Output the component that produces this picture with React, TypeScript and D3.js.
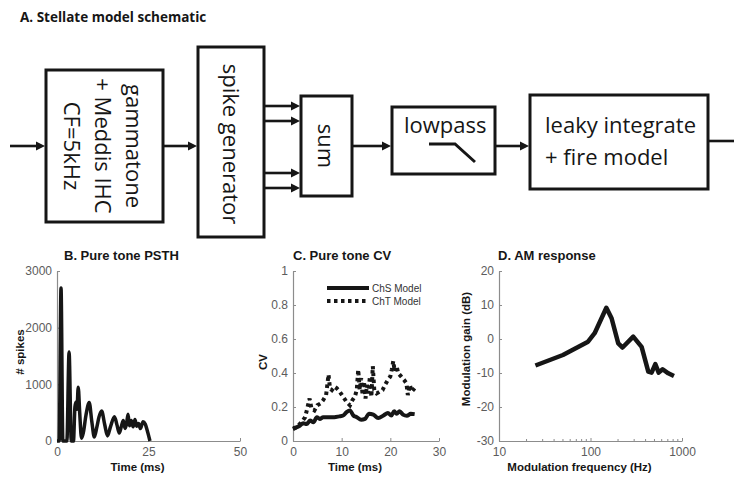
import * as d3 from "d3";
import { useEffect, useRef } from "react";

// ---- B. Pure tone PSTH ----
const psthTime = [0, 0.6, 1.1, 1.6, 2.7, 3.3, 3.9, 4.5, 4.9, 5.2, 5.45, 5.8, 6.2, 6.7, 7.2, 7.9, 8.8, 9.5, 10.2, 10.9, 11.5, 12.2, 13, 13.8, 14.6, 15.7, 16.4, 17, 17.6, 18.1, 18.6, 19, 19.4, 19.8, 20.3, 20.8, 21.3, 21.8, 22.3, 22.8, 23.5, 24.1, 24.6, 25.4];
const psthSpikes = [0, 0, 2700, 0, 0, 1570, 0, 0, 600, 690, 560, 950, 500, 50, 150, 450, 680, 350, 70, 250, 430, 530, 300, 90, 250, 430, 280, 140, 260, 360, 220, 300, 470, 270, 360, 250, 380, 260, 310, 220, 340, 300, 200, 0];
const psthXTicks = [0, 25, 50];
const psthYTicks = [0, 1000, 2000, 3000];

// ---- C. Pure tone CV ----
const chsTime = [0, 0.7, 1.4, 2.1, 2.8, 3.5, 4.2, 4.9, 5.5, 6.2, 7.5, 8.5, 9.5, 10.3, 11, 11.7, 12.4, 13.1, 14, 14.8, 15.6, 16.5, 17.5, 18.6, 19.5, 20.2, 20.8, 21.3, 21.9, 22.6, 23.4, 24.2, 25];
const chsCV = [0.075, 0.08, 0.09, 0.105, 0.1, 0.12, 0.11, 0.14, 0.13, 0.14, 0.14, 0.14, 0.145, 0.15, 0.17, 0.18, 0.15, 0.14, 0.125, 0.13, 0.16, 0.155, 0.135, 0.15, 0.165, 0.15, 0.175, 0.16, 0.175, 0.155, 0.148, 0.16, 0.158];
const chtTime = [0, 0.7, 1.4, 2, 2.5, 3, 3.4, 3.8, 4.4, 5, 5.6, 6.2, 6.8, 7.3, 7.6, 8, 8.5, 9, 9.6, 10.3, 11, 11.7, 12.2, 12.7, 13.1, 13.4, 13.7, 14, 14.3, 14.6, 14.9, 15.2, 15.5, 15.8, 16.1, 16.4, 16.7, 17.2, 17.8, 18.4, 18.9, 19.5, 20, 20.3, 20.6, 20.9, 21.3, 21.6, 22.2, 22.8, 23.3, 23.6, 24, 24.4, 25];
const chtCV = [0.07, 0.08, 0.1, 0.12, 0.14, 0.2, 0.25, 0.19, 0.18, 0.21, 0.22, 0.24, 0.27, 0.39, 0.31, 0.3, 0.32, 0.31, 0.29, 0.26, 0.23, 0.21, 0.24, 0.26, 0.3, 0.42, 0.3, 0.37, 0.27, 0.35, 0.25, 0.33, 0.28, 0.38, 0.26, 0.44, 0.3, 0.28, 0.29, 0.3, 0.33, 0.36, 0.38, 0.42, 0.47, 0.41, 0.44, 0.4, 0.38, 0.36, 0.34, 0.27, 0.33, 0.29, 0.31];
const cvXTicks = [0, 10, 20, 30];
const cvYTicks = [0, 0.2, 0.4, 0.6, 0.8, 1];
const cvSeries = ["ChS Model", "ChT Model"];

// ---- D. AM response ----
const amFreq = [25, 50, 94, 111, 149, 170, 201, 224, 293, 362, 428, 465, 511, 556, 614, 708, 817];
const amGain = [-7.8, -4.7, -0.8, 1.7, 9.2, 6.1, -1.3, -2.5, 0.7, -2.3, -9.6, -9.9, -7.4, -9.9, -8.9, -10.1, -10.9];
const amXTicks = [10, 100, 1000];
const amYTicks = [-30, -20, -10, 0, 10, 20];

const W = 734;
const H = 479;
const PLOT_TOP = 271;
const PLOT_BOTTOM = 441;
const AXIS_COLOR = "#8c8c8c";
const TICK_TEXT = "#5c5c5c";
const INK = "#161616";
const FONT = "'Liberation Sans', Arial, sans-serif";
const SCHEM_FONT = "'Open Sans', 'Noto Sans', sans-serif";

export default function App() {
  const ref = useRef<SVGSVGElement>(null);

  useEffect(() => {
    const svg = d3.select(ref.current);
    svg.selectAll("*").remove();
    svg.append("rect").attr("width", W).attr("height", H).attr("fill", "white");

    // ---------- A. schematic ----------
    const sch = svg.append("g");
    sch.append("text")
      .attr("x", 20).attr("y", 22)
      .attr("font-family", SCHEM_FONT).attr("font-weight", 700).attr("font-size", 13.5)
      .attr("fill", INK)
      .text("A. Stellate model schematic");

    const box = (x: number, y: number, w: number, h: number) =>
      sch.append("rect").attr("x", x).attr("y", y).attr("width", w).attr("height", h)
        .attr("fill", "white").attr("stroke", INK).attr("stroke-width", 3);

    const arrow = (x1: number, x2: number, y: number) => {
      sch.append("line").attr("x1", x1).attr("x2", x2 - 6).attr("y1", y).attr("y2", y)
        .attr("stroke", INK).attr("stroke-width", 2.6);
      sch.append("path")
        .attr("d", `M${x2 - 9},${y - 4.5} L${x2},${y} L${x2 - 9},${y + 4.5} Z`)
        .attr("fill", INK);
    };

    box(46, 70, 117, 152);
    box(198, 47, 66, 190);
    box(301, 96, 51, 100);
    box(392, 107, 103, 67);
    box(530, 95, 178, 94);

    arrow(10, 45, 146);
    arrow(164, 197, 146);
    [106, 121, 173, 188].forEach(y => arrow(265, 300, y));
    arrow(353, 391, 146);
    arrow(496, 529, 146);
    sch.append("line").attr("x1", 709).attr("x2", W).attr("y1", 141).attr("y2", 141)
      .attr("stroke", INK).attr("stroke-width", 2.6);

    const vtext = (x: number, y: number, s: string) =>
      sch.append("text")
        .attr("transform", `translate(${x},${y}) rotate(90)`)
        .attr("text-anchor", "middle")
        .attr("font-family", SCHEM_FONT).attr("font-size", 22).attr("fill", INK)
        .text(s);

    vtext(126, 146, "gammatone");
    vtext(95, 146, "+ Meddis IHC");
    vtext(64, 146, "CF=5kHz");
    vtext(223, 144, "spike generator");
    vtext(318, 146, "sum");

    const htext = (x: number, y: number, s: string) =>
      sch.append("text").attr("x", x).attr("y", y)
        .attr("font-family", SCHEM_FONT).attr("font-size", 22).attr("fill", INK)
        .text(s);
    htext(404, 133, "lowpass");
    htext(545, 133, "leaky integrate");
    htext(545, 165, "+ fire model");

    sch.append("path").attr("d", "M429,144 H455 L475,162")
      .attr("fill", "none").attr("stroke", INK).attr("stroke-width", 3);

    // ---------- helpers for the plots ----------
    const styleAxis = (g: d3.Selection<SVGGElement, unknown, null, undefined>) => {
      g.select(".domain").attr("stroke", AXIS_COLOR).attr("stroke-width", 1.2);
      g.selectAll(".tick line").attr("stroke", AXIS_COLOR);
      g.selectAll(".tick text").attr("fill", TICK_TEXT).attr("font-size", 12).attr("font-family", FONT);
    };

    const fmt = (d: d3.NumberValue) => String(+d);

    const panel = (
      left: number, right: number,
      x: any, y: any,
      xTicks: number[], yTicks: number[],
      title: string, titleX: number,
      xLabel: string, yLabel: string, yLabelX: number, yLabelY: number
    ) => {
      const g = svg.append("g");
      const ax = g.append("g").attr("transform", `translate(0,${PLOT_BOTTOM})`)
        .call(d3.axisBottom(x).tickValues(xTicks).tickFormat(fmt).tickSizeInner(-3).tickSizeOuter(0).tickPadding(6));
      styleAxis(ax);
      const ay = g.append("g").attr("transform", `translate(${left},0)`)
        .call(d3.axisLeft(y).tickValues(yTicks).tickFormat(fmt).tickSizeInner(-3).tickSizeOuter(0).tickPadding(5));
      styleAxis(ay);
      g.append("text").attr("x", titleX).attr("y", 260)
        .attr("font-family", FONT).attr("font-weight", 700).attr("font-size", 13).attr("fill", INK)
        .text(title);
      g.append("text").attr("x", (left + right) / 2 - 11).attr("y", 471)
        .attr("text-anchor", "middle")
        .attr("font-family", FONT).attr("font-weight", 700).attr("font-size", 11.5).attr("fill", INK)
        .text(xLabel);
      g.append("text")
        .attr("transform", `translate(${yLabelX},${yLabelY}) rotate(-90)`)
        .attr("text-anchor", "middle")
        .attr("font-family", FONT).attr("font-weight", 700).attr("font-size", 11.5).attr("fill", INK)
        .text(yLabel);
      return g;
    };

    // ---------- B ----------
    const bx = d3.scaleLinear().domain([0, 50]).range([57, 240]);
    const by = d3.scaleLinear().domain([0, 3000]).range([PLOT_BOTTOM, PLOT_TOP]);
    const gB = panel(57, 240, bx, by, psthXTicks, psthYTicks, "B. Pure tone PSTH", 64, "Time (ms)", "# spikes", 24, 352);
    const psthLine = d3.line<number>()
      .x((_, i) => bx(psthTime[i]))
      .y(d => by(d))
      .curve(d3.curveMonotoneX);
    gB.append("path").attr("d", psthLine(psthSpikes))
      .attr("fill", "none").attr("stroke", INK).attr("stroke-width", 3.5).attr("stroke-linejoin", "round");

    // ---------- C ----------
    const cx = d3.scaleLinear().domain([0, 30]).range([293, 439]);
    const cy = d3.scaleLinear().domain([0, 1]).range([PLOT_BOTTOM, PLOT_TOP]);
    const gC = panel(293, 439, cx, cy, cvXTicks, cvYTicks, "C. Pure tone CV", 293, "Time (ms)", "CV", 267, 362);
    const chtLine = d3.line<number>().x((_, i) => cx(chtTime[i])).y(d => cy(d));
    const chsLine = d3.line<number>().x((_, i) => cx(chsTime[i])).y(d => cy(d)).curve(d3.curveMonotoneX);
    gC.append("path").attr("d", chtLine(chtCV))
      .attr("fill", "none").attr("stroke", INK).attr("stroke-width", 4).attr("stroke-dasharray", "3.5,3.5");
    gC.append("path").attr("d", chsLine(chsCV))
      .attr("fill", "none").attr("stroke", INK).attr("stroke-width", 4).attr("stroke-linejoin", "round");

    const legend = gC.append("g");
    cvSeries.forEach((name, i) => {
      const ly = 288 + i * 13;
      legend.append("line").attr("x1", 327).attr("x2", 369).attr("y1", ly).attr("y2", ly)
        .attr("stroke", INK).attr("stroke-width", 4)
        .attr("stroke-dasharray", i === 1 ? "3.5,3.5" : null);
      legend.append("text").attr("x", 372).attr("y", ly + 3.5)
        .attr("font-family", FONT).attr("font-size", 10).attr("fill", "#333")
        .text(name);
    });

    // ---------- D ----------
    const dx = d3.scaleLog().domain([10, 1000]).range([499, 682]);
    const dy = d3.scaleLinear().domain([-30, 20]).range([PLOT_BOTTOM, PLOT_TOP]);
    const gD = panel(499, 682, dx, dy, amXTicks, amYTicks, "D. AM response", 498, "Modulation frequency (Hz)", "Modulation gain (dB)", 470, 349);
    gD.append("g").selectAll("line")
      .data(dx.ticks().filter(t => !amXTicks.includes(t)))
      .join("line")
      .attr("x1", d => dx(d)).attr("x2", d => dx(d))
      .attr("y1", PLOT_BOTTOM).attr("y2", PLOT_BOTTOM - 2)
      .attr("stroke", AXIS_COLOR);
    const amLine = d3.line<number>().x((_, i) => dx(amFreq[i])).y(d => dy(d));
    gD.append("path").attr("d", amLine(amGain))
      .attr("fill", "none").attr("stroke", INK).attr("stroke-width", 4.5)
      .attr("stroke-linejoin", "round").attr("stroke-linecap", "butt");
  }, []);

  return (
    <svg ref={ref} width={W} height={H}
      style={{ position: "absolute", left: 0, top: 0, display: "block" }} />
  );
}
